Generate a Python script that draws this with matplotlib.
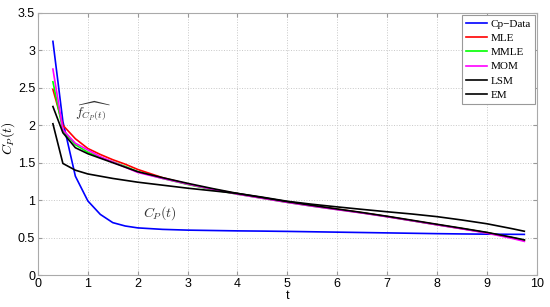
import matplotlib
matplotlib.use("Agg")
import matplotlib.pyplot as plt

plt.rcParams['mathtext.fontset'] = 'cm'
plt.rcParams['font.family'] = 'Liberation Sans'

# time grid and curves
t = [0.3, 0.5, 0.75, 1.0, 1.25, 1.5, 1.75, 2.0,
     2.5, 3.0, 3.5, 4.0, 4.5, 5.0, 5.5, 6.0, 6.5, 7.0, 7.5, 8.0, 8.5, 9.0, 9.5,
     9.75]
cp_data = [3.12, 2.05, 1.32, 0.99, 0.81, 0.70, 0.655, 0.63,
           0.61, 0.60, 0.595, 0.59, 0.587, 0.583, 0.578, 0.573, 0.568, 0.563, 0.558, 0.553, 0.549, 0.546, 0.544,
           0.543]
mle = [2.48, 2.00, 1.82, 1.69, 1.61, 1.54, 1.48, 1.41,
       1.30, 1.215, 1.145, 1.085, 1.03, 0.975, 0.925, 0.88, 0.832, 0.782, 0.727, 0.673, 0.62, 0.565, 0.50,
       0.46]
mmle = [2.58, 1.93, 1.74, 1.64, 1.57, 1.51, 1.45, 1.38,
        1.29, 1.21, 1.14, 1.08, 1.025, 0.97, 0.92, 0.875, 0.83, 0.78, 0.725, 0.672, 0.62, 0.565, 0.50,
        0.465]
mom = [2.75, 1.94, 1.76, 1.67, 1.58, 1.51, 1.44, 1.37,
       1.29, 1.215, 1.145, 1.08, 1.025, 0.97, 0.92, 0.873, 0.828, 0.778, 0.725, 0.67, 0.617, 0.56, 0.49,
       0.45]
lsm = [2.25, 1.90, 1.70, 1.62, 1.56, 1.50, 1.44, 1.38,
       1.30, 1.225, 1.155, 1.09, 1.035, 0.98, 0.93, 0.882, 0.835, 0.785, 0.732, 0.678, 0.625, 0.57, 0.505,
       0.47]
em = [2.02, 1.49, 1.40, 1.35, 1.32, 1.29, 1.265, 1.24,
      1.20, 1.16, 1.125, 1.09, 1.04, 0.985, 0.945, 0.91, 0.877, 0.845, 0.815, 0.78, 0.735, 0.685, 0.62,
      0.585]

series = [("Cp\u2212Data", cp_data, (0, 0, 1)),
          ("MLE", mle, (1, 0, 0)),
          ("MMLE", mmle, (0, 1, 0)),
          ("MOM", mom, (1, 0, 1)),
          ("LSM", lsm, (0, 0, 0)),
          ("EM", em, (0, 0, 0))]

fig = plt.figure(figsize=(5.5, 3.07), dpi=100)
ax = fig.add_axes([0.069, 0.104, 0.907, 0.854])

for name, vals, col in series:
    ax.plot(t, vals, color=col, lw=1.2, label=name)

ax.set_xlim(0, 10)
ax.set_ylim(0, 3.5)
ax.set_xticks(range(0, 11))
ax.set_yticks([0, 0.5, 1, 1.5, 2, 2.5, 3, 3.5])
ax.set_yticklabels(["0", "0.5", "1", "1.5", "2", "2.5", "3", "3.5"])
ax.grid(True, linestyle=':', color='#c8c8c8', lw=0.7)
ax.tick_params(direction='in', length=3, color='#999999', labelsize=9, pad=2,
               top=True, right=True)
for s in ax.spines.values():
    s.set_color('#aaaaaa')
    s.set_linewidth(0.8)

ax.set_xlabel("t", fontsize=9, labelpad=0)
ax.set_ylabel("$C_P(t)$", fontsize=10)
ax.yaxis.set_label_coords(-0.042, 0.52)

ax.text(1.1, 2.19, r"$\widehat{f_{C_P(t)}}$", fontsize=10, color='#333333',
        ha='center', va='center')
ax.text(2.44, 0.83, "$C_P(t)$", fontsize=10, color='#333333',
        ha='center', va='center')

leg = ax.legend(loc='upper right', bbox_to_anchor=(1.0, 1.0), borderaxespad=0.2,
                fancybox=False, framealpha=1, edgecolor='#999999',
                prop={'family': 'Liberation Serif', 'size': 8},
                handlelength=1.9, handletextpad=0.3, labelspacing=0.4,
                borderpad=0.35)
leg.get_frame().set_linewidth(0.8)

fig.savefig("out.png", dpi=100)
